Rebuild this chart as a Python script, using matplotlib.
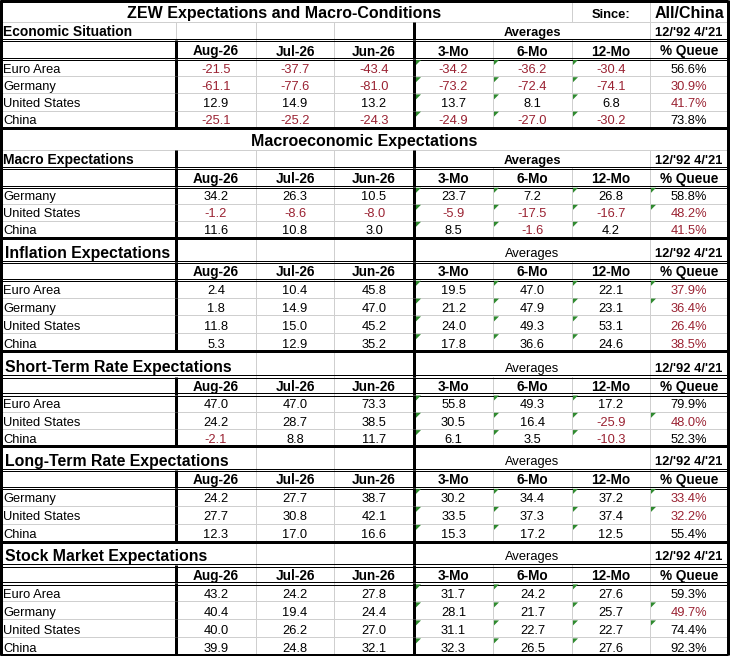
import matplotlib
matplotlib.use("Agg")
import matplotlib.pyplot as plt

plt.rcParams['font.family'] = ['Liberation Sans', 'DejaVu Sans']

# ---- data -------------------------------------------------------------
COLS = ["Aug-26", "Jul-26", "Jun-26", "3-Mo", "6-Mo", "12-Mo", "% Queue"]

econ_rows = ["Euro Area", "Germany", "United States", "China"]
econ_values = [
    [-21.5, -37.7, -43.4, -34.2, -36.2, -30.4, 56.6],
    [-61.1, -77.6, -81.0, -73.2, -72.4, -74.1, 30.9],
    [12.9, 14.9, 13.2, 13.7, 8.1, 6.8, 41.7],
    [-25.1, -25.2, -24.3, -24.9, -27.0, -30.2, 73.8],
]
econ_flags = [False, False, False, False]

macro_rows = ["Germany", "United States", "China"]
macro_values = [
    [34.2, 26.3, 10.5, 23.7, 7.2, 26.8, 58.8],
    [-1.2, -8.6, -8.0, -5.9, -17.5, -16.7, 48.2],
    [11.6, 10.8, 3.0, 8.5, -1.6, 4.2, 41.5],
]
macro_flags = [True, True, False]

infl_rows = ["Euro Area", "Germany", "United States", "China"]
infl_values = [
    [2.4, 10.4, 45.8, 19.5, 47.0, 22.1, 37.9],
    [1.8, 14.9, 47.0, 21.2, 47.9, 23.1, 36.4],
    [11.8, 15.0, 45.2, 24.0, 49.3, 53.1, 26.4],
    [5.3, 12.9, 35.2, 17.8, 36.6, 24.6, 38.5],
]
infl_flags = [True, True, False, False]

short_rows = ["Euro Area", "United States", "China"]
short_values = [
    [47.0, 47.0, 73.3, 55.8, 49.3, 17.2, 79.9],
    [24.2, 28.7, 38.5, 30.5, 16.4, -25.9, 48.0],
    [-2.1, 8.8, 11.7, 6.1, 3.5, -10.3, 52.3],
]
short_flags = [False, True, False]

long_rows = ["Germany", "United States", "China"]
long_values = [
    [24.2, 27.7, 38.7, 30.2, 34.4, 37.2, 33.4],
    [27.7, 30.8, 42.1, 33.5, 37.3, 37.4, 32.2],
    [12.3, 17.0, 16.6, 15.3, 17.2, 12.5, 55.4],
]
long_flags = [True, True, False]

stock_rows = ["Euro Area", "Germany", "United States", "China"]
stock_values = [
    [43.2, 24.2, 27.8, 31.7, 24.2, 27.6, 59.3],
    [40.4, 19.4, 24.4, 28.1, 21.7, 25.7, 49.7],
    [40.0, 26.2, 27.0, 31.1, 22.7, 22.7, 74.4],
    [39.9, 24.8, 32.1, 32.3, 26.5, 27.6, 92.3],
]
stock_flags = [False, True, True, False]

# ---- layout -----------------------------------------------------------
X = [0, 176, 256, 334, 414, 493, 572, 650, 728]
PX = 0.72  # points per pixel at dpi 100
RED = "#9a2232"
GREEN = "#2f8a2f"
GRID = "#cfcfcf"

sections = [
    dict(kind="top", title="ZEW Expectations and Macro-Conditions",
         label="Economic Situation", rows=econ_rows, vals=econ_values,
         flags=econ_flags, h=(22, 18, 19, 17.2)),
    dict(kind="mid", title="Macroeconomic Expectations",
         label="Macro Expectations", rows=macro_rows, vals=macro_values,
         flags=macro_flags, h=(22, 18, 19, 17.0)),
    dict(kind="plain", title="Inflation Expectations", rows=infl_rows,
         vals=infl_values, flags=infl_flags, h=(24, 18, 17.8), bar=True),
    dict(kind="plain", title="Short-Term Rate Expectations", rows=short_rows,
         vals=short_values, flags=short_flags, h=(25.5, 18, 17.3), bar=False),
    dict(kind="plain", title="Long-Term Rate Expectations", rows=long_rows,
         vals=long_values, flags=long_flags, h=(23.5, 18, 18.0), bar=False),
    dict(kind="plain", title="Stock Market Expectations", rows=stock_rows,
         vals=stock_values, flags=stock_flags, h=(23.5, 18, 18.0), bar=False),
]

fig = plt.figure(figsize=(7.32, 6.56), dpi=100)
ax = fig.add_axes([0, 0, 1, 1])
ax.set_xlim(0, 732)
ax.set_ylim(656, 0)
ax.axis("off")


def hline(y, style, x0=0, x1=728):
    if style == "grid":
        ax.plot([x0, x1], [y, y], color=GRID, lw=1 * PX, zorder=1)
    elif style == "double":
        for d in (-1.3, 1.3):
            ax.plot([x0, x1], [y + d, y + d], color="black", lw=1 * PX, zorder=3)
    else:
        ax.plot([x0, x1], [y, y], color="black", lw=3 * PX, zorder=4,
                solid_capstyle="butt")


def vline(x, y0, y1, style):
    if style == "grid":
        ax.plot([x, x], [y0, y1], color=GRID, lw=1 * PX, zorder=1)
    else:
        ax.plot([x, x], [y0, y1], color="black", lw=3 * PX, zorder=4,
                solid_capstyle="butt")


def txt(x, y, s, size=9, bold=False, ha="center", color="black"):
    ax.text(x, y, s, fontsize=size, fontweight="bold" if bold else "normal",
            ha=ha, va="baseline", color=color, zorder=5)


def mid(i, j=None):
    j = i + 1 if j is None else j
    return (X[i] + X[j]) / 2


y = 0
for sec in sections:
    kind = sec["kind"]
    if kind in ("top", "mid"):
        h_title, h_sub, h_hdr, h_row = sec["h"]
    else:
        h_title, h_hdr, h_row = sec["h"]
        h_sub = 0

    # title row
    y0, y1 = y, y + h_title
    if kind == "top":
        txt(284, y1 - 3.7, sec["title"], size=11.5, bold=True)
        txt(mid(6), y1 - 4.5, "Since:", size=9.3, bold=True)
        txt(mid(7), y1 - 3.7, "All/China", size=11.5, bold=True)
        vline(X[6], y0, y1, "grid")
        vline(X[7], y0, y1, "grid")
        hline(y1, "grid")
    elif kind == "mid":
        txt(364, y1 - 4.2, sec["title"], size=11.5, bold=True)
        hline(y1, "grid")
    else:
        txt(5, y1 - 4.2, sec["title"], size=11.4, bold=True, ha="left")
        txt(mid(4, 7), y1 - 5, "Averages", size=9.3)
        txt(mid(7), y1 - 5, "12/'92 4/'21", size=9.3, bold=True)
        for c in (2, 3, 7):
            vline(X[c], y0, y1, "grid")
        vline(X[4], y0, y1, "thick")
        if sec.get("bar"):
            vline(X[1], y0, y1, "thick")
        hline(y1, "double")
    y = y1

    # sub-title row (first two sections)
    if h_sub:
        y0, y1 = y, y + h_sub
        txt(3, y1 - 4, sec["label"], size=10, bold=True, ha="left")
        txt(mid(4, 7), y1 - 4, "Averages", size=9.3, bold=True)
        txt(mid(7), y1 - 4, "12/'92 4/'21", size=9.3, bold=True)
        for c in (2, 3, 7):
            vline(X[c], y0, y1, "grid")
        vline(X[1], y0, y1, "thick" if kind == "mid" else "grid")
        vline(X[4], y0, y1, "thick")
        hline(y1, "double")
        y = y1

    # header row
    y0, y1 = y, y + h_hdr
    for j, name in enumerate(COLS):
        txt(mid(j + 1), y1 - 3.5, name, size=9.8, bold=True)
    for c in (2, 3, 5, 6, 7):
        vline(X[c], y0, y1, "grid")
    vline(X[1], y0, y1, "thick")
    vline(X[4], y0, y1, "thick")
    hline(y1, "double")
    y = y1

    # data rows
    n = len(sec["rows"])
    for i, (name, vals) in enumerate(zip(sec["rows"], sec["vals"])):
        y0, y1 = y, y + h_row
        txt(3, y1 - 3.5, name, size=9.3, ha="left")
        for j, v in enumerate(vals):
            if j == 6:
                s = f"{v:.1f}%"
                col = RED if v < 50 else "black"
            else:
                s = f"{v:.1f}"
                col = RED if v < 0 else "black"
            txt(mid(j + 1), y1 - 3.5, s, size=9.3, color=col)
            tri = j in (3, 4, 5) or (j == 6 and sec["flags"][i])
            if tri:
                xl = X[j + 1] + (2 if j == 3 else 1)
                ax.fill([xl, xl + 5, xl], [y0 + 1, y0 + 1, y0 + 6],
                        color=GREEN, lw=0, zorder=6)
        for c in (2, 3, 5, 6, 7):
            vline(X[c], y0, y1, "grid")
        vline(X[1], y0, y1, "thick")
        vline(X[4], y0, y1, "thick")
        hline(y1, "thick" if i == n - 1 else "grid")
        y = y1

# outer border
vline(1, 0, y, "thick")
vline(X[-1], 0, y, "thick")
hline(1, "thick")

fig.savefig("out.png", dpi=100)
